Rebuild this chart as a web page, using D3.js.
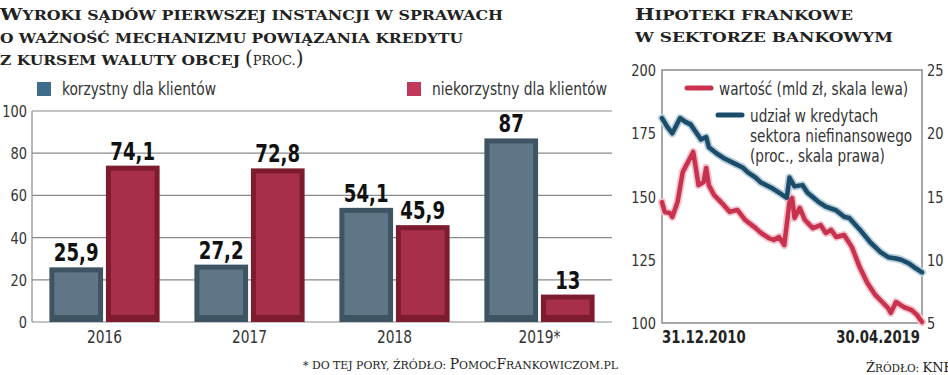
<!DOCTYPE html>
<html>
<head>
<meta charset="utf-8">
<script src="https://cdn.jsdelivr.net/npm/d3@7"></script>
<style>
  body { margin: 0; background: #fff; }
  svg { display: block; }
  .sans { font-family: "DejaVu Sans Condensed", "DejaVu Sans", sans-serif; fill: #333; }
  .serif { font-family: "DejaVu Serif", serif; fill: #222; }
</style>
</head>
<body>
<script>
// left chart: court rulings (%)
const years = ["2016", "2017", "2018", "2019*"];
const favorable = [25.9, 27.2, 54.1, 87];
const unfavorable = [74.1, 72.8, 45.9, 13];
const barTicks = [0, 20, 40, 60, 80, 100];

// right chart: CHF mortgages, monthly
const valueDates = ["2010-12", "2011-01", "2011-03", "2011-04", "2011-06", "2011-08", "2011-09", "2011-10",
  "2011-12", "2012-01", "2012-02", "2012-04", "2012-05", "2012-06", "2012-08", "2012-11", "2013-02",
  "2013-05", "2013-08", "2013-12", "2014-02", "2014-05", "2014-07", "2014-09", "2014-11", "2015-01",
  "2015-02", "2015-03", "2015-05", "2015-07", "2015-10", "2016-01", "2016-03", "2016-05", "2016-07",
  "2016-10", "2017-01", "2017-04", "2017-07", "2017-10", "2018-01", "2018-03", "2018-04", "2018-06",
  "2018-09", "2018-12", "2019-02", "2019-04"];
const values = [147.8, 143.9, 143.5, 141.9, 147.8, 159.7, 161.7, 163.6,
  167.6, 161.3, 154.5, 155.7, 161.3, 154.5, 150.6, 147.4, 143.9,
  144.7, 140.7, 137.5, 135.6, 133.6, 132.8, 134.0, 130.8, 147.8,
  149.4, 141.5, 145.5, 140.7, 137.5, 138.7, 135.6, 136.8, 134.0,
  134.8, 130.0, 122.1, 115.8, 111.1, 107.9, 105.9, 104.0, 108.3,
  106.3, 105.1, 103.2, 100.4];

const shareDates = ["2010-12", "2011-02", "2011-04", "2011-05", "2011-07", "2011-09", "2011-11", "2012-01",
  "2012-03", "2012-05", "2012-06", "2012-09", "2012-12", "2013-04", "2013-07", "2013-09", "2013-12",
  "2014-02", "2014-06", "2014-09", "2014-12", "2015-01", "2015-03", "2015-06", "2015-08", "2015-12",
  "2016-03", "2016-07", "2016-10", "2016-12", "2017-04", "2017-08", "2017-12", "2018-03", "2018-06",
  "2018-08", "2018-11", "2019-01", "2019-04"];
const shares = [21.2, 20.5, 20.0, 20.4, 21.2, 20.9, 20.7, 20.1,
  19.5, 19.7, 18.9, 18.4, 18.0, 17.6, 17.3, 16.9, 16.5,
  16.1, 15.7, 15.3, 14.9, 16.5, 15.8, 15.9, 15.3, 14.6,
  14.2, 13.9, 13.4, 13.3, 12.4, 11.4, 10.6, 10.2, 10.1,
  10.0, 9.7, 9.4, 9.0];
const leftTicks = [100, 125, 150, 175, 200];
const rightTicks = [5, 10, 15, 20, 25];
const dateLabels = ["31.12.2010", "30.04.2019"];

const svg = d3.select("body").append("svg")
  .attr("width", 948)
  .attr("height", 375);

// squeeze text horizontally, the original uses a narrow face
function squeeze(sel, f) {
  sel.each(function() {
    const w = this.getComputedTextLength();
    d3.select(this).attr("textLength", w * f).attr("lengthAdjust", "spacingAndGlyphs");
  });
  return sel;
}

// fake small caps: capitals big, lower case as smaller capitals
function smallCaps(sel, str, big, small) {
  const runs = [];
  for (const ch of str) {
    const up = ch !== ch.toLowerCase();
    const last = runs[runs.length - 1];
    if (last && last.up === up) last.s += ch;
    else runs.push({up, s: ch});
  }
  runs.forEach(r => {
    sel.append("tspan").attr("font-size", r.up ? big : small).text(r.s.toUpperCase());
  });
  return sel;
}

function title(x, yy, str, width, bold, big, small) {
  const el = svg.append("text").attr("class", "serif")
    .attr("x", x).attr("y", yy)
    .attr("font-weight", bold ? "bold" : "normal");
  smallCaps(el, str, big, small);
  if (width) el.attr("textLength", width).attr("lengthAdjust", "spacingAndGlyphs");
  return el;
}

// ---------- left chart ----------
title(0, 20, "Wyroki sądów pierwszej instancji w sprawach", 503, true, 17, 13.5);
title(0, 43, "o ważność mechanizmu powiązania kredytu", 463, true, 17, 13.5);
title(0, 65, "z kursem waluty obcej", 240, true, 17, 13.5);
const pr = svg.append("text").attr("class", "serif").attr("x", 245).attr("y", 65);
pr.append("tspan").attr("font-size", 20).text("(");
pr.append("tspan").attr("font-size", 13).text("PROC.");
pr.append("tspan").attr("font-size", 20).text(")");

const x0 = d3.scaleBand().domain(years).range([32, 612])
  .paddingInner(0.24).paddingOuter(0.12);
const x1 = d3.scaleBand().domain(["fav", "unfav"]).range([0, x0.bandwidth()])
  .paddingInner(0.05);
const y = d3.scaleLinear().domain([0, 100]).range([322, 111]);

svg.append("g").selectAll("line").data(barTicks).join("line")
  .attr("x1", 32).attr("x2", 612)
  .attr("y1", d => y(d)).attr("y2", d => y(d))
  .attr("stroke", "#8a8a8a").attr("stroke-width", 1.2);
svg.append("line")
  .attr("x1", 32).attr("x2", 32).attr("y1", y(100)).attr("y2", y(0))
  .attr("stroke", "#8a8a8a").attr("stroke-width", 1.2);
svg.append("g").selectAll("text").data(barTicks).join("text")
  .attr("class", "sans").attr("font-size", 16)
  .attr("x", 27).attr("y", d => y(d) + 6)
  .attr("text-anchor", "end").text(d => d)
  .call(squeeze, 0.9);

const seriesStyle = {
  fav: {outer: "#3e5463", inner: "#5e7685", key: "#3d6d8a", label: "korzystny dla klientów"},
  unfav: {outer: "#7e1c2f", inner: "#a82f49", key: "#c0385a", label: "niekorzystny dla klientów"}
};

const bars = [];
years.forEach((yr, i) => {
  bars.push({year: yr, key: "fav", value: favorable[i]});
  bars.push({year: yr, key: "unfav", value: unfavorable[i]});
});

const bar = svg.append("g").selectAll("g").data(bars).join("g")
  .attr("transform", d => `translate(${x0(d.year) + x1(d.key)},0)`);
bar.append("rect")
  .attr("y", d => y(d.value))
  .attr("width", x1.bandwidth())
  .attr("height", d => y(0) - y(d.value))
  .attr("fill", d => seriesStyle[d.key].outer);
bar.append("rect")
  .attr("x", 5)
  .attr("y", d => y(d.value) + 5)
  .attr("width", x1.bandwidth() - 10)
  .attr("height", d => Math.max(0, y(0) - y(d.value) - 12))
  .attr("fill", d => seriesStyle[d.key].inner);
bar.append("text")
  .attr("class", "sans")
  .attr("x", x1.bandwidth() / 2)
  .attr("y", d => y(d.value) - 6)
  .attr("text-anchor", "middle")
  .attr("font-size", 24).attr("font-weight", "bold")
  .style("fill", "#111")
  .text(d => String(d.value).replace(".", ","))
  .call(squeeze, 0.84);

svg.append("g").selectAll("text").data(years).join("text")
  .attr("class", "sans").attr("font-size", 17)
  .attr("x", d => x0(d) + x0.bandwidth() / 2)
  .attr("y", 343)
  .attr("text-anchor", "middle").text(d => d)
  .call(squeeze, 0.9);

// legend
const legendX = {fav: 37, unfav: 407};
Object.keys(seriesStyle).forEach(k => {
  svg.append("rect")
    .attr("x", legendX[k]).attr("y", 82)
    .attr("width", 14).attr("height", 14)
    .attr("fill", seriesStyle[k].key);
  svg.append("text").attr("class", "sans")
    .attr("x", legendX[k] + 25).attr("y", 95)
    .attr("font-size", 17).text(seriesStyle[k].label)
    .call(squeeze, 0.9);
});

title(303, 369, "* do tej pory, źródło: PomocFrankowiczom.pl", 315, false, 14, 11);

// ---------- right chart ----------
title(635, 20, "Hipoteki frankowe", 218, true, 17, 13.5);
title(635, 42, "w sektorze bankowym", 258, true, 17, 13.5);

const parse = d3.timeParse("%Y-%m");
const t = d3.scaleTime().domain([parse("2010-12"), parse("2019-04")]).range([662, 922]);
const yL = d3.scaleLinear().domain([100, 200]).range([323, 70]);
const yR = d3.scaleLinear().domain([5, 25]).range([323, 70]);

svg.append("rect")
  .attr("x", 662).attr("y", 70).attr("width", 260).attr("height", 253)
  .attr("fill", "none").attr("stroke", "#8a8a8a").attr("stroke-width", 1.5);

svg.append("g").selectAll("text").data(leftTicks).join("text")
  .attr("class", "sans").attr("font-size", 16)
  .attr("x", 656).attr("y", d => yL(d) + 6)
  .attr("text-anchor", "end").text(d => d)
  .call(squeeze, 0.9);
svg.append("g").selectAll("text").data(rightTicks).join("text")
  .attr("class", "sans").attr("font-size", 16)
  .attr("x", 927).attr("y", d => yR(d) + 6)
  .text(d => d)
  .call(squeeze, 0.9);

dateLabels.forEach((lab, i) => {
  svg.append("text").attr("class", "sans")
    .attr("x", i === 0 ? t.range()[0] : t.range()[1] - 2)
    .attr("y", 343)
    .attr("text-anchor", i === 0 ? "start" : "end")
    .attr("font-size", 17.5).attr("font-weight", "bold")
    .style("fill", "#222")
    .text(lab)
    .call(squeeze, 0.84);
});

const valueLine = d3.line().x(d => t(d[0])).y(d => yL(d[1]));
const shareLine = d3.line().x(d => t(d[0])).y(d => yR(d[1]));
const valueData = valueDates.map((d, i) => [parse(d), values[i]]);
const shareData = shareDates.map((d, i) => [parse(d), shares[i]]);

const lines = [
  {path: shareLine(shareData), color: "#1b4c6a", halo: "#b9cfdc"},
  {path: valueLine(valueData), color: "#c8324f", halo: "#f1c3cd"}
];
lines.forEach(l => {
  svg.append("path").attr("d", l.path).attr("fill", "none")
    .attr("stroke", l.halo).attr("stroke-width", 8)
    .attr("stroke-linejoin", "round").attr("stroke-linecap", "round");
});
lines.forEach(l => {
  svg.append("path").attr("d", l.path).attr("fill", "none")
    .attr("stroke", l.color).attr("stroke-width", 4.5)
    .attr("stroke-linejoin", "round").attr("stroke-linecap", "round");
});

// right legend
const legend2 = [
  {x: 687, y: 88, color: "#c8324f", text: ["wartość (mld zł, skala lewa)"]},
  {x: 718, y: 115, color: "#1b4c6a", text: ["udział w kredytach", "sektora niefinansowego", "(proc., skala prawa)"]}
];
legend2.forEach(l => {
  svg.append("line")
    .attr("x1", l.x).attr("x2", l.x + 24).attr("y1", l.y).attr("y2", l.y)
    .attr("stroke", l.color).attr("stroke-width", 5).attr("stroke-linecap", "round");
  l.text.forEach((s, i) => {
    svg.append("text").attr("class", "sans")
      .attr("x", l.x + 32).attr("y", l.y + 7 + i * 20)
      .attr("font-size", 17).text(s)
      .call(squeeze, 0.89);
  });
});

title(866, 372, "Źródło: KNF", null, false, 13, 10.5);
</script>
</body>
</html>
